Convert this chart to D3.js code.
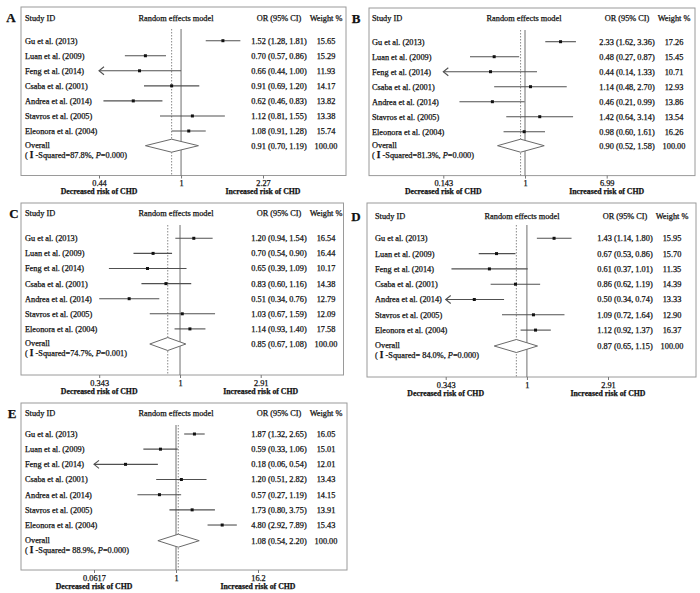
<!DOCTYPE html>
<html>
<head>
<meta charset="utf-8">
<script src="https://cdn.jsdelivr.net/npm/d3@7"></script>
<style>
  body { margin: 0; background: #fff; }
  svg text { font-family: 'Liberation Serif', 'Times New Roman', serif; fill: #111; stroke: #111; stroke-width: 0.25px; }
</style>
</head>
<body>
<svg id="chart" width="700" height="593"></svg>
<script>
// Five forest plots (A-E), same seven studies, random effects model.

const studies = ['Gu et al. (2013)', 'Luan et al. (2009)', 'Feng et al. (2014)', 'Csaba et al. (2001)',
  'Andrea et al. (2014)', 'Stavros et al. (2005)', 'Eleonora et al. (2004)'];
const panelIds = ['A', 'B', 'C', 'D', 'E'];

const orA = [1.52, 0.70, 0.66, 0.91, 0.62, 1.12, 1.08];
const lowA = [1.28, 0.57, 0.44, 0.69, 0.46, 0.81, 0.91];
const highA = [1.81, 0.86, 1.00, 1.20, 0.83, 1.55, 1.28];
const weightA = [15.65, 15.29, 11.93, 14.17, 13.82, 13.38, 15.74];

const orB = [2.33, 0.48, 0.44, 1.14, 0.46, 1.42, 0.98];
const lowB = [1.62, 0.27, 0.14, 0.48, 0.21, 0.64, 0.60];
const highB = [3.36, 0.87, 1.33, 2.70, 0.99, 3.14, 1.61];
const weightB = [17.26, 15.45, 10.71, 12.93, 13.86, 13.54, 16.26];

const orC = [1.20, 0.70, 0.65, 0.83, 0.51, 1.03, 1.14];
const lowC = [0.94, 0.54, 0.39, 0.60, 0.34, 0.67, 0.93];
const highC = [1.54, 0.90, 1.09, 1.16, 0.76, 1.59, 1.40];
const weightC = [16.54, 16.44, 10.17, 14.38, 12.79, 12.09, 17.58];

const orD = [1.43, 0.67, 0.61, 0.86, 0.50, 1.09, 1.12];
const lowD = [1.14, 0.53, 0.37, 0.62, 0.34, 0.72, 0.92];
const highD = [1.80, 0.86, 1.01, 1.19, 0.74, 1.64, 1.37];
const weightD = [15.95, 15.70, 11.35, 14.39, 13.33, 12.90, 16.37];

const orE = [1.87, 0.59, 0.18, 1.20, 0.57, 1.73, 4.80];
const lowE = [1.32, 0.33, 0.06, 0.51, 0.27, 0.80, 2.92];
const highE = [2.65, 1.06, 0.54, 2.82, 1.19, 3.75, 7.89];
const weightE = [16.05, 15.01, 12.01, 13.43, 14.15, 13.91, 15.43];

const overallOR = [0.91, 0.90, 0.85, 0.87, 1.08];
const overallLow = [0.70, 0.52, 0.67, 0.65, 0.54];
const overallHigh = [1.19, 1.58, 1.08, 1.15, 2.20];
const iSquared = ['=87.8%', '=81.3%', '=74.7%', '= 84.0%', '= 88.9%'];
const pValues = ['0.000', '0.000', '0.001', '0.000', '0.000'];

const axisMin = [0.44, 0.143, 0.343, 0.343, 0.0617];
const axisMax = [2.27, 6.99, 2.91, 2.91, 16.2];
const tickLabels = [['0.44', '1', '2.27'], ['0.143', '1', '6.99'], ['0.343', '1', '2.91'],
  ['0.343', '1', '2.91'], ['0.0617', '1', '16.2']];
// study whose CI runs off the left of the axis (drawn with an arrow)
const clipped = ['Feng et al. (2014)', 'Feng et al. (2014)', null, 'Andrea et al. (2014)', 'Feng et al. (2014)'];

const orAll = [orA, orB, orC, orD, orE];
const lowAll = [lowA, lowB, lowC, lowD, lowE];
const highAll = [highA, highB, highC, highD, highE];
const weightAll = [weightA, weightB, weightC, weightD, weightE];

// panel geometry (pixels)
const frames = [
  { x0: 21, x1: 346, y0: 7, y1: 175.5, px0: 99, px1: 263, row0: 40.7, step: 15.05, ovY: 145.7, hdY: 17.7, nameX: 25, lx: 11 },
  { x0: 369, x1: 695, y0: 8, y1: 175.6, px0: 443.3, px1: 606.7, row0: 41.7, step: 15.0, ovY: 145.7, hdY: 18, nameX: 372, lx: 356 },
  { x0: 21, x1: 343.5, y0: 203, y1: 375, px0: 99.2, px1: 260.7, row0: 238.3, step: 15.1, ovY: 344, hdY: 213, nameX: 25, lx: 14 },
  { x0: 367, x1: 696, y0: 203, y1: 377, px0: 445.7, px1: 608, row0: 238.3, step: 15.3, ovY: 346, hdY: 216, nameX: 375, lx: 356 },
  { x0: 21, x1: 347, y0: 403, y1: 570, px0: 94, px1: 258, row0: 434, step: 15.17, ovY: 540.7, hdY: 413, nameX: 25, lx: 12 }
];

const svg = d3.select('#chart');
const f2 = d3.format('.2f');
const FS = 8.3;

panelIds.forEach((id, p) => {
  const fr = frames[p];
  const g = svg.append('g');
  const x = d3.scaleLog().domain([axisMin[p], axisMax[p]]).range([fr.px0, fr.px1]);
  const y = d3.scaleLinear().domain([0, 6]).range([fr.row0, fr.row0 + 6 * fr.step]);

  // frame
  g.append('rect')
    .attr('x', fr.x0).attr('y', fr.y0)
    .attr('width', fr.x1 - fr.x0).attr('height', fr.y1 - fr.y0)
    .attr('fill', 'none').attr('stroke', '#9a9a9a').attr('stroke-width', 1);

  // panel letter
  g.append('text').attr('x', fr.lx).attr('y', fr.hdY).attr('dy', '0.35em')
    .attr('text-anchor', 'middle').attr('font-size', 13).attr('font-weight', 'bold')
    .text(id);

  const label = (tx, xx, yy, anchor, size) => g.append('text')
    .attr('x', xx).attr('y', yy).attr('dy', '0.35em')
    .attr('text-anchor', anchor).attr('font-size', size || FS).text(tx);

  // header
  label('Study  ID', fr.nameX, fr.hdY, 'start');
  label('Random effects model', fr.x0 + 155, fr.hdY, 'middle');
  label('OR (95% CI)', fr.x0 + 258, fr.hdY, 'middle');
  label('Weight %', fr.x0 + 305, fr.hdY, 'middle');

  // reference lines
  const lineTop = fr.y0 + 22;
  g.append('line')
    .attr('x1', x(overallOR[p])).attr('x2', x(overallOR[p]))
    .attr('y1', lineTop).attr('y2', fr.y1)
    .attr('stroke', '#8a8a8a').attr('stroke-dasharray', '1.5,1.5');
  g.append('line')
    .attr('x1', x(1)).attr('x2', x(1))
    .attr('y1', lineTop).attr('y2', fr.y1)
    .attr('stroke', '#6e6e6e').attr('stroke-width', 1);

  // studies
  studies.forEach((s, i) => {
    const yy = y(i);
    const lo = Math.max(lowAll[p][i], axisMin[p]);
    const hi = Math.min(highAll[p][i], axisMax[p]);
    g.append('line')
      .attr('x1', x(lo)).attr('x2', x(hi))
      .attr('y1', yy).attr('y2', yy)
      .attr('stroke', '#505050').attr('stroke-width', 1.1);
    if (clipped[p] === s) {
      const tip = x(axisMin[p]);
      g.append('path')
        .attr('d', `M${tip + 5},${yy - 4}L${tip},${yy}L${tip + 5},${yy + 4}`)
        .attr('fill', 'none').attr('stroke', '#505050').attr('stroke-width', 1.1);
    }
    g.append('rect')
      .attr('x', x(orAll[p][i]) - 1.5).attr('y', yy - 1.5)
      .attr('width', 3).attr('height', 3).attr('fill', '#111');

    label(s, fr.nameX, yy, 'start');
    label(`${f2(orAll[p][i])} (${f2(lowAll[p][i])}, ${f2(highAll[p][i])})`, fr.x0 + 258, yy, 'middle');
    label(f2(weightAll[p][i]), fr.x0 + 305, yy, 'middle');
  });

  // overall diamond
  const oy = fr.ovY;
  g.append('path')
    .attr('d', `M${x(overallLow[p])},${oy}L${x(overallOR[p])},${oy - 6.5}L${x(overallHigh[p])},${oy}L${x(overallOR[p])},${oy + 6.5}Z`)
    .attr('fill', '#fff').attr('stroke', '#6a6a6a').attr('stroke-width', 1);
  label('Overall', fr.nameX, oy - 1, 'start');
  const iq = g.append('text').attr('x', fr.nameX).attr('y', oy + 9.5).attr('dy', '0.35em')
    .attr('font-size', FS);
  iq.append('tspan').text('( ');
  iq.append('tspan').attr('font-size', FS + 1).attr('font-weight', 'bold').text('I');
  iq.append('tspan').text(` -Squared${iSquared[p]}, `);
  iq.append('tspan').attr('font-style', 'italic').text('P');
  iq.append('tspan').text(`=${pValues[p]})`);
  label(`${f2(overallOR[p])} (${f2(overallLow[p])}, ${f2(overallHigh[p])})`, fr.x0 + 258, oy, 'middle');
  label('100.00', fr.x0 + 305, oy, 'middle');

  // x axis on frame bottom
  const axis = d3.axisBottom(x)
    .tickValues([axisMin[p], 1, axisMax[p]])
    .tickSize(3).tickPadding(2)
    .tickFormat((d, i) => tickLabels[p][i]);
  const ax = g.append('g').attr('transform', `translate(0,${fr.y1})`).call(axis);
  ax.select('.domain').remove();
  ax.selectAll('.tick line').attr('stroke', '#777');
  ax.selectAll('.tick text')
    .attr('font-family', "'Liberation Serif', serif").attr('font-size', FS)
    .attr('fill', '#111');

  label('Decreased risk of CHD', x(axisMin[p]), fr.y1 + 16, 'middle', 7.8).attr('font-weight', 'bold');
  label('Increased risk of CHD', x(axisMax[p]), fr.y1 + 16, 'middle', 7.8).attr('font-weight', 'bold');
});
</script>
</body>
</html>
